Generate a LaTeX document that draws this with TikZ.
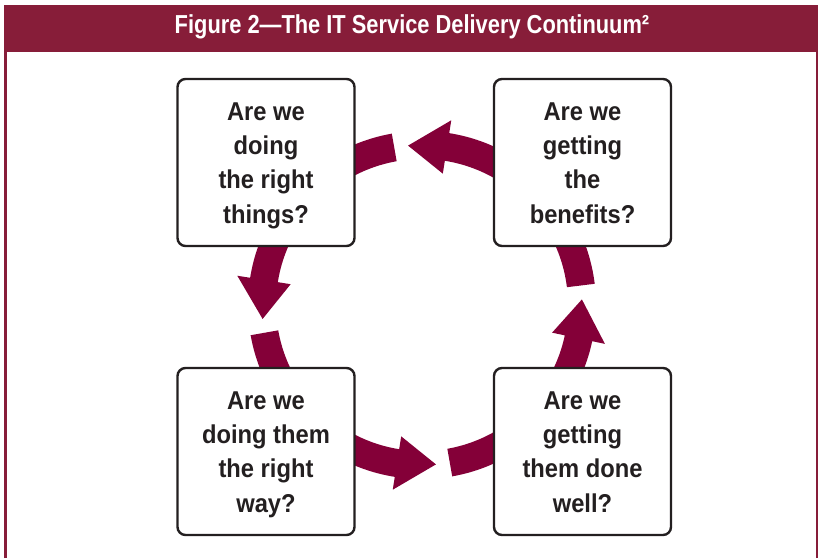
\documentclass[tikz,border=0pt]{standalone}
\usepackage{fontspec}
\setmainfont{Liberation Sans}[FakeStretch=0.92]
\newfontfamily\titlefont{Liberation Sans}[FakeStretch=0.84]
\usetikzlibrary{calc}

\definecolor{barred}{RGB}{135,29,57}
\definecolor{arrowred}{RGB}{132,0,56}
\definecolor{edgegray}{RGB}{35,31,32}

% curved block arrow on the ring: from angle #1 to tip angle #2
\newcommand\cyclearrow[2]{%
  \pgfmathsetmacro\hb{#2-14}%
  \fill[arrowred] ($(ctr)+(#1:174)$) arc[start angle=#1, end angle=\hb, radius=174]
    -- ($(ctr)+(\hb:187)$) -- ($(ctr)+(#2:160)$) -- ($(ctr)+(\hb:133)$)
    -- ($(ctr)+(\hb:146)$) arc[start angle=\hb, end angle=#1, radius=146] -- cycle;}

\tikzset{
  questionbox/.style={draw=edgegray, line width=2.4pt, rounded corners=8pt, fill=white,
    minimum width=177pt, minimum height=167pt, inner sep=0pt},
  questiontext/.style={align=center, inner sep=0pt,
    font=\fontsize{25.8}{34.3}\selectfont\bfseries, text=edgegray},
  frameline/.style={draw=barred, line width=3pt},
}

\begin{document}
\begin{tikzpicture}[x=1pt,y=1pt]
  \useasboundingbox (0,0) rectangle (818,558);
  \fill[white] (0,0) rectangle (818,558);

  % title bar and frame
  \fill[barred] (4,506) rectangle (818,553);
  \node[anchor=base, text=white, inner sep=0pt,
        font=\titlefont\fontsize{26}{28}\selectfont\bfseries] (title)
        at (412,524) {Figure 2—The IT Service Delivery Continuum²};
  \draw[frameline] (5.5,0) -- (5.5,506);
  \draw[barred, line width=1.5pt] (816.8,0) -- (816.8,506);

  % ring of arrows
  \coordinate (ctr) at (422,253);
  \cyclearrow{7}{95}
  \cyclearrow{100}{185}
  \cyclearrow{190}{275}
  \cyclearrow{280}{362}

  % question boxes
  \node[questionbox] (tl) at (266,395.5) {};
  \node[questionbox] (tr) at (582.5,395.5) {};
  \node[questionbox] (bl) at (266,106.5) {};
  \node[questionbox] (br) at (582.5,106.5) {};

  % their texts (equal depth on the last line keeps the rows aligned)
  \node[questiontext] (tltext) at ([yshift=-3]tl.center) {Are we\\doing\\the right\\things?};
  \node[questiontext] (trtext) at ([yshift=-3]tr.center) {Are we\\getting\\the\\benefits?\vphantom{g}};
  \node[questiontext] (bltext) at ([yshift=-3]bl.center) {Are we\\doing them\\the right\\way?};
  \node[questiontext] (brtext) at ([yshift=-3]br.center) {Are we\\getting\\them done\\well?\vphantom{g}};
\end{tikzpicture}
\end{document}
